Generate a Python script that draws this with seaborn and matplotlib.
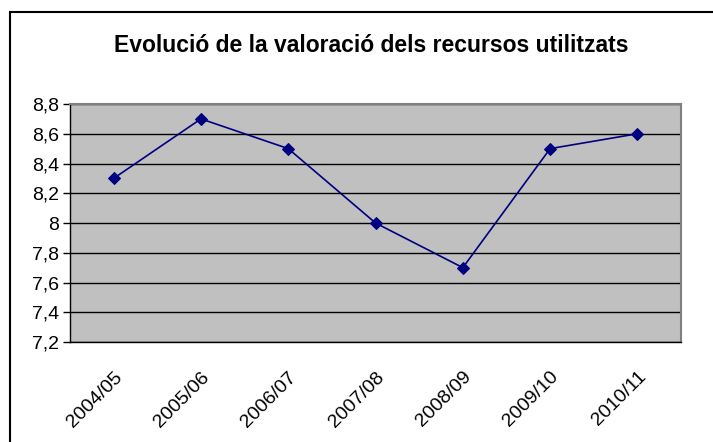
import numpy as np
import matplotlib
matplotlib.use("Agg")
import matplotlib.pyplot as plt
import seaborn as sns

seasons = ["2004/05", "2005/06", "2006/07", "2007/08", "2008/09", "2009/10", "2010/11"]
ratings = [8.3, 8.7, 8.5, 8.0, 7.7, 8.5, 8.6]
y_ticks = [7.2, 7.4, 7.6, 7.8, 8.0, 8.2, 8.4, 8.6, 8.8]
y_labels = ["7,2", "7,4", "7,6", "7,8", "8", "8,2", "8,4", "8,6", "8,8"]

sns.set_style("white")
plt.rcParams["font.family"] = ["Liberation Sans", "DejaVu Sans"]
plt.rcParams["text.color"] = "black"
plt.rcParams["xtick.color"] = "black"
plt.rcParams["ytick.color"] = "black"

fig = plt.figure(figsize=(7.13, 4.42), dpi=100)
ax = fig.add_axes([0.0982, 0.2262, 0.8570, 0.5385])
ax.set_facecolor("#C0C0C0")

pos = np.arange(len(seasons))
sns.lineplot(ax=ax, x=pos, y=ratings, color="#000080", linewidth=1.2,
             marker="D", markersize=6.5, markeredgecolor="#000080")

ax.set_xlim(-0.5, len(seasons) - 0.5)
ax.set_ylim(7.2, 8.8)
ax.set_yticks(y_ticks)
ax.set_yticklabels(y_labels, fontsize=14)
ax.yaxis.grid(True, color="black", linewidth=1)
ax.set_axisbelow(True)

ax.set_xticks(pos)
ax.set_xticklabels(seasons, rotation=45, ha="right", rotation_mode="anchor", fontsize=14)
ax.set_xticks(np.arange(-0.5, len(seasons)), minor=True)
ax.tick_params(axis="x", which="major", length=0, pad=19)
ax.tick_params(axis="x", which="minor", length=5, width=1, color="black", direction="out")
ax.tick_params(axis="y", length=5, width=1, color="black", direction="out", left=True, pad=3)

for side in ["left", "bottom"]:
    ax.spines[side].set_color("black")
    ax.spines[side].set_linewidth(1)
for side in ["top", "right"]:
    ax.spines[side].set_color("#808080")
    ax.spines[side].set_linewidth(1.5)

fig.text(0.52, 0.898, "Evolució de la valoració dels recursos utilitzats",
         ha="center", va="center", fontsize=16.5, fontweight="bold", color="black")

# chart frame: only left and top edges fall inside the picture
fig.patches.append(plt.Rectangle((0.0135, -0.05), 1.05, 1.023, transform=fig.transFigure,
                                 fill=False, edgecolor="black", linewidth=1.5))

fig.savefig("out.png", dpi=100)
